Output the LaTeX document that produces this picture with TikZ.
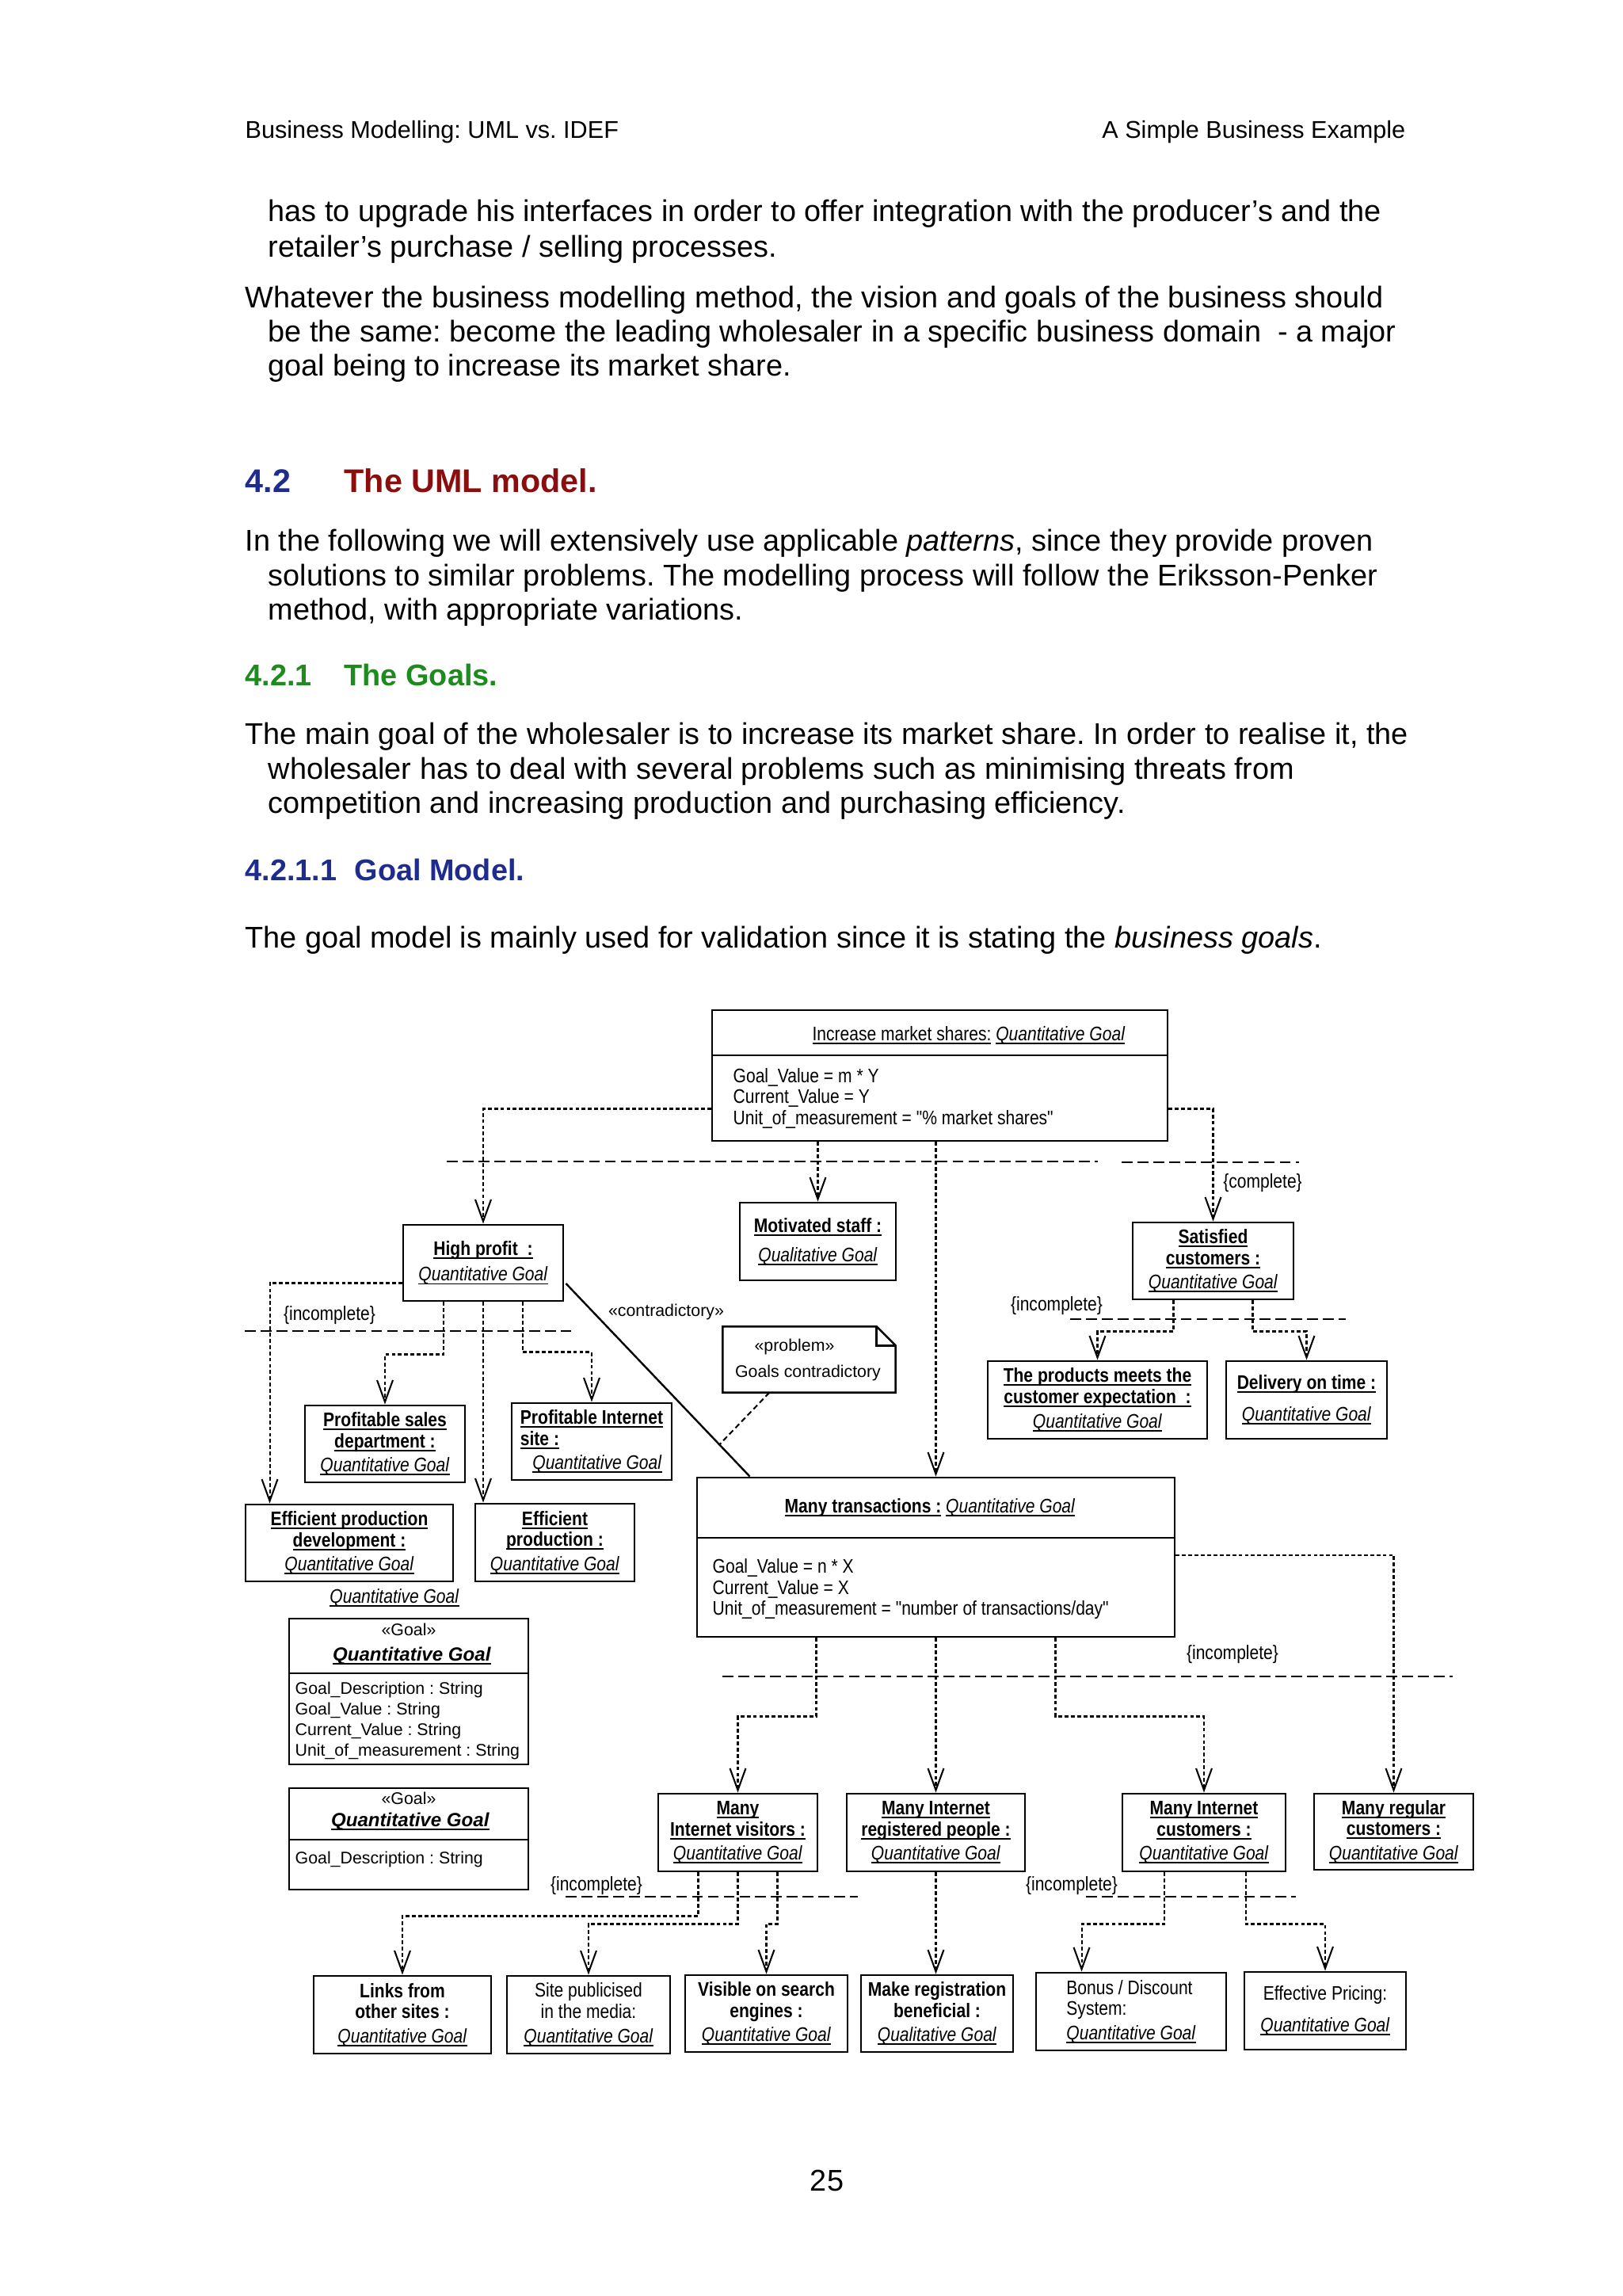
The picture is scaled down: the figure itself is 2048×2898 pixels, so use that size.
\documentclass[tikz,border=0pt]{standalone}
\usepackage{fontspec}
\setmainfont{Liberation Sans}
\newfontfamily\cfam[FakeStretch=0.85]{Liberation Sans}
\usetikzlibrary{arrows.meta,calc}
\definecolor{hblue}{HTML}{1F2C8F}
\definecolor{hred}{HTML}{8B0E0E}
\definecolor{hgreen}{HTML}{1E8B1E}
\newsavebox\ulbox
\newcommand\myul[1]{\sbox\ulbox{#1}\rlap{\rule[-1.3pt]{\wd\ulbox}{0.55pt}}\usebox\ulbox}
\newcommand\cfont{\cfam\fontsize{7.2pt}{7.7pt}\selectfont}
\newcommand\nfont{\fontsize{6.2pt}{7.55pt}\selectfont}
\newcommand\ub[1]{\myul{\textbf{#1}}}
\newcommand\ui[1]{\myul{\textit{#1}}}
\newcommand\QG{\ui{Quantitative Goal}}
\frenchspacing
\begin{document}
\begin{tikzpicture}[x=0.29066pt,y=-0.29066pt,
  box/.style={draw,line width=0.85pt,inner sep=0pt,align=center,font=\cfont},
  bb/.style args={#1/#2/#3/#4}{minimum width={(#3-#1)*0.29066pt},minimum height={(#4-#2)*0.29066pt},at={({(#1+#3)/2},{(#2+#4)/2})}},
  outl/.style={draw,line width=0.85pt},
  lab/.style={inner sep=0pt,font=\cfont},
  nlab/.style={inner sep=0pt,font=\nfont},
  body/.style={anchor=base west,inner sep=0pt,font=\fontsize{11pt}{13pt}\selectfont},
  hdr/.style={anchor=base west,inner sep=0pt,font=\fontsize{8.9pt}{10pt}\selectfont},
  conn/.style={line width=0.6pt,dash pattern=on 1.4pt off 0.9pt,-{Straight Barb[length=8pt,width=5.8pt,line width=0.6pt]}},
  bar/.style={line width=0.8pt,dash pattern=on 4pt off 1.8pt},
  solidline/.style={line width=0.7pt},
  notelink/.style={line width=0.6pt,dash pattern=on 2pt off 1.2pt}]
\fill[white] (0,0) rectangle (2048,2898);
\useasboundingbox (0,0) rectangle (2048,2898);

% ---------- page text ----------
\node[hdr] (h1) at (309,174) {Business Modelling: UML vs. IDEF};
\node[hdr,anchor=base east] (h2) at (1775,174) {A Simple Business Example};
\node[body] (t1) at (338,279) {has to upgrade his interfaces in order to offer integration with the producer's and the};
\node[body] (t2) at (338,324) {retailer's purchase / selling processes.};
\node[body] (t3) at (309,388) {Whatever the business modelling method, the vision and goals of the business should};
\node[body] (t4) at (338,431) {be the same: become the leading wholesaler in a specific business domain\ \ - a major};
\node[body] (t5) at (338,474) {goal being to increase its market share.};
\node[body,font=\fontsize{12pt}{14pt}\selectfont\bfseries,text=hblue] (s1a) at (309,621) {4.2};
\node[body,font=\fontsize{12pt}{14pt}\selectfont\bfseries,text=hred] (s1b) at (434,621) {The UML model.};
\node[body] (t6) at (309,695) {In the following we will extensively use applicable \textit{patterns}, since they provide proven};
\node[body] (t7) at (338,739) {solutions to similar problems. The modelling process will follow the Eriksson-Penker};
\node[body] (t8) at (338,782) {method, with appropriate variations.};
\node[body,font=\fontsize{11pt}{13pt}\selectfont\bfseries,text=hgreen] (s2a) at (309,865) {4.2.1};
\node[body,font=\fontsize{11pt}{13pt}\selectfont\bfseries,text=hgreen] (s2b) at (434,865) {The Goals.};
\node[body] (t9) at (309,939) {The main goal of the wholesaler is to increase its market share. In order to realise it, the};
\node[body] (t10) at (338,983) {wholesaler has to deal with several problems such as minimising threats from};
\node[body] (t11) at (338,1026) {competition and increasing production and purchasing efficiency.};
\node[body,font=\fontsize{11pt}{13pt}\selectfont\bfseries,text=hblue] (s3a) at (309,1111) {4.2.1.1};
\node[body,font=\fontsize{11pt}{13pt}\selectfont\bfseries,text=hblue] (s3b) at (447,1111) {Goal Model.};
\node[body] (t12) at (309,1196) {The goal model is mainly used for validation since it is stating the \textit{business goals}.};
\node[body,anchor=base] (pg) at (1044,2765) {25};

% ---------- boxes ----------
\node[box,bb=899/1275/1474/1440] (im) {};
\draw[outl] (899,1332) -- (1474,1332);
\node[lab] (imt) at (1223,1307) {\myul{Increase market shares:} \QG};
\node[lab,anchor=west,align=left] (ima) at (925,1386) {Goal\_Value = m * Y\\Current\_Value = Y\\Unit\_of\_measurement = "\% market shares"};

\node[box,bb=509/1546/711/1642] (hp) {\ub{High profit\ \ :}\\[1.8pt]\QG};
\node[box,bb=934/1518/1131/1616] (ms) {\ub{Motivated staff :}\\[3pt]\ui{Qualitative Goal}};
\node[box,bb=1430/1543/1633/1640] (sc) {\ub{Satisfied}\\\ub{customers :}\\[1.2pt]\QG};
\node[box,bb=1247/1718/1524/1816] (pm) {\ub{The products meets the}\\\ub{customer expectation\ \ :}\\[1.5pt]\QG};
\node[box,bb=1548/1718/1751/1816] (dt) {\ub{Delivery on time :}\\[4pt]\QG};
\node[box,bb=385/1774/587/1871] (ps) {\ub{Profitable sales}\\\ub{department :}\\[1.2pt]\QG};
\node[box,align=left,bb=646/1771/848/1868] (pi) {\ub{Profitable Internet}\\\ub{site :}\\[1.2pt]\hspace*{4.5pt}\QG};
\node[box,bb=310/1899/572/1996] (epd) {\ub{Efficient production}\\\ub{development :}\\[1.2pt]\QG};
\node[box,bb=600/1898/801/1996] (ep) {\ub{Efficient}\\\ub{production :}\\[1.2pt]\QG};
\node[lab] (qgl) at (498,2017) {\QG};

% note
\node[inner sep=0pt,bb=913/1675/1130/1757] (pn) {};
\draw[outl,line width=0.75pt] (pn.south west) -- (pn.north west) -- ($(pn.north east)+(-24,0)$) -- ($(pn.north east)+(0,24)$) -- (pn.south east) -- cycle;
\draw[outl,line width=0.75pt] ($(pn.north east)+(-24,0)$) -- ($(pn.north east)+(-24,24)$) -- ($(pn.north east)+(0,24)$);
\node[nlab] (pn1) at (1003,1700) {«problem»};
\node[nlab] (pn2) at (1020,1733) {Goals contradictory};

% left class boxes
\node[box,bb=365/2043/667/2227] (ga) {};
\draw[outl] (365,2112) -- (667,2112);
\node[nlab] (ga1) at (516,2057) {«Goal»};
\node[inner sep=0pt,font=\fontsize{7pt}{8pt}\selectfont] (ga2) at (520,2090) {\myul{\textbf{\textit{Quantitative Goal}}}};
\node[nlab,anchor=west,align=left] (ga3) at (372,2172) {Goal\_Description : String\\Goal\_Value : String\\Current\_Value : String\\Unit\_of\_measurement : String};

\node[box,bb=365/2257/667/2385] (gb) {};
\draw[outl] (365,2322) -- (667,2322);
\node[nlab] (gb1) at (516,2270) {«Goal»};
\node[inner sep=0pt,font=\fontsize{7pt}{8pt}\selectfont] (gb2) at (518,2299) {\myul{\textbf{\textit{Quantitative Goal}}}};
\node[nlab,anchor=west] (gb3) at (372,2347) {Goal\_Description : String};

% many transactions
\node[box,bb=880/1865/1483/2066] (mt) {};
\draw[outl] (880,1941) -- (1483,1941);
\node[lab] (mtt) at (1174,1903) {\ub{Many transactions :} \QG};
\node[lab,anchor=west,align=left] (mta) at (899,2006) {Goal\_Value = n * X\\Current\_Value = X\\Unit\_of\_measurement = "number of transactions/day"};

% second row
\node[box,bb=831/2264/1032/2362] (iv) {\ub{Many}\\\ub{Internet visitors :}\\[1.2pt]\QG};
\node[box,bb=1069/2264/1294/2362] (rp) {\ub{Many Internet}\\\ub{registered people :}\\[1.2pt]\QG};
\node[box,bb=1417/2264/1623/2362] (ic) {\ub{Many Internet}\\\ub{customers :}\\[1.2pt]\QG};
\node[box,bb=1659/2264/1860/2360] (rc) {\ub{Many regular}\\\ub{customers :}\\[1.2pt]\QG};

% third row
\node[box,bb=396/2494/620/2592] (lo) {\textbf{Links from}\\\textbf{other sites :}\\[1.2pt]\QG};
\node[box,bb=640/2494/846/2592] (sp) {Site publicised\\in the media:\\[1.5pt]\QG};
\node[box,bb=865/2493/1070/2590] (vs) {\textbf{Visible on search}\\\textbf{engines :}\\[1.2pt]\QG};
\node[box,bb=1087/2493/1279/2590] (mr) {\textbf{Make registration}\\\textbf{beneficial :}\\[1.2pt]\ui{Qualitative Goal}};
\node[box,align=left,bb=1308/2490/1548/2588] (bd) {Bonus / Discount\\System:\\[1.2pt]\QG};
\node[box,bb=1571/2489/1775/2587] (ef) {Effective Pricing:\\[3.8pt]\QG};

% ---------- labels ----------
\node[lab] (lc1) at (1594,1493) {\{complete\}};
\node[lab] (li1) at (416,1660) {\{incomplete\}};
\node[lab] (li2) at (1334,1648) {\{incomplete\}};
\node[lab] (li3) at (1556,2088) {\{incomplete\}};
\node[lab] (li4) at (753,2380) {\{incomplete\}};
\node[lab] (li5) at (1353,2380) {\{incomplete\}};
\node[nlab] (lcon) at (841,1656) {«contradictory»};

% ---------- connectors ----------
\draw[conn] ($(im.south west)+(0,-42)$) -| (hp.north);
\draw[conn] (ms.north |- im.south) -- (ms.north);
\draw[conn] (mt.north |- im.south) -- (mt.north);
\draw[conn] ($(im.south east)+(0,-42)$) -| (sc.north);
\draw[bar] (564,1466) -- (1386,1466);
\draw[bar] (1416,1467) -- (1640,1467);

\draw[conn] ($(hp.south west)+(0,-24)$) -| ($(epd.north west)+(32,0)$);
\draw[conn] ($(hp.south)+(-50,0)$) -- ++(0,66) -| (ps.north);
\draw[conn] (hp.south) -- (hp.south |- ep.north);
\draw[conn] ($(hp.south)+(50,0)$) -- ++(0,63) -| (pi.north);
\draw[bar] (309,1680) -- (721,1680);

\coordinate (c1) at ($(hp.east)+(2,26)$);
\coordinate (c2) at ($(mt.north west)+(68,0)$);
\draw[solidline] (c1) -- (c2);
\draw[notelink] ($(pn.south west)+(59,0)$) -- ($(c1)!0.835!(c2)$);

\draw[conn] ($(sc.south)+(-50,0)$) -- ++(0,39) -| (pm.north);
\draw[conn] ($(sc.south)+(50,0)$) -- ++(0,39) -| (dt.north);
\draw[bar] (1351,1665) -- (1699,1665);

\draw[conn] ($(mt.north east)+(0,99)$) -| (rc.north);
\draw[conn] ($(mt.south)+(-151,0)$) -- ++(0,99) -| (iv.north);
\draw[conn] (mt.south) -- (mt.south |- rp.north);
\draw[conn] ($(mt.south)+(151,0)$) -- ++(0,99) -| (ic.north);
\draw[bar] (912,2116) -- (1834,2116);

\draw[conn] ($(iv.south)+(-50,0)$) -- ++(0,55) -| (lo.north);
\draw[conn] (iv.south) -- ++(0,65) -| (sp.north);
\draw[conn] ($(iv.south)+(50,0)$) -- ++(0,65) -| (vs.north);
\draw[bar] (714,2394) -- (1083,2394);

\draw[conn] (rp.south) -- (rp.south |- mr.north);

\draw[conn] ($(ic.south)+(-50,0)$) -- ++(0,65) -| ($(bd.north west)+(59,0)$);
\draw[conn] ($(ic.south)+(53,0)$) -- ++(0,65) -| (ef.north);
\draw[bar] (1371,2394) -- (1636,2394);
\end{tikzpicture}
\end{document}
